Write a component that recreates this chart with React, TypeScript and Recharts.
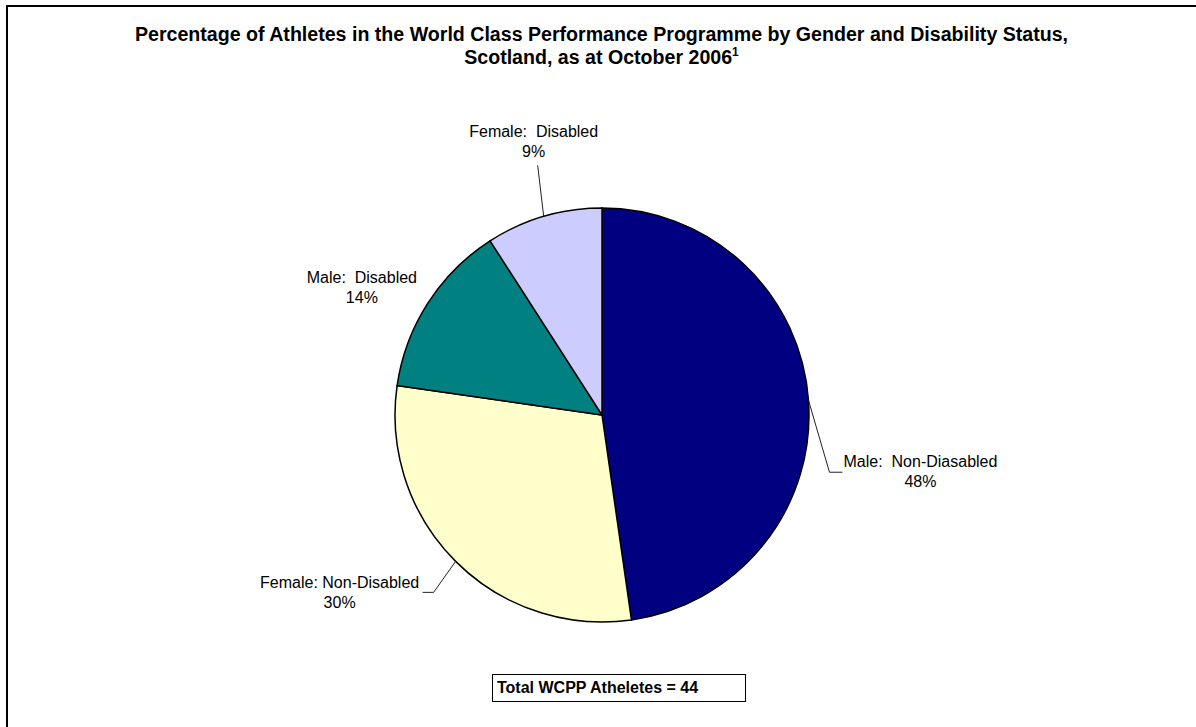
import { PieChart, Pie, Cell } from 'recharts'

const categories = ['Male:  Non-Diasabled', 'Female: Non-Disabled', 'Male:  Disabled', 'Female:  Disabled']
const athletes = [21, 13, 6, 4]
const percentLabels = ['48%', '30%', '14%', '9%']
const colors = ['#000080', '#FFFFCC', '#008080', '#CCCCFF']

// label baseline offset from the slice's outer edge point, plus leader line points
const labelLayout: Record<string, { dx: number; dy: number; leader: number[][] | null }> = {
  'Male:  Non-Diasabled': { dx: 112, dy: 67, leader: [[21, 72], [34, 72]] },
  'Female: Non-Disabled': { dx: -116, dy: 27, leader: [[-22, 31], [-33, 31]] },
  'Male:  Disabled': { dx: -66, dy: -20, leader: null },
  'Female:  Disabled': { dx: -10, dy: -79, leader: [[-6, -51]] },
}

const chartData = categories.map((name, i) => ({
  name,
  value: athletes[i],
  pct: percentLabels[i],
}))

const RADIAN = Math.PI / 180
const font = '"Liberation Sans", Arial, sans-serif'

const renderLabel = (props: any) => {
  const { cx, cy, midAngle, outerRadius, index } = props
  const name = chartData[index].name
  const layout = labelLayout[name]
  const ex = cx + outerRadius * Math.cos(-midAngle * RADIAN)
  const ey = cy + outerRadius * Math.sin(-midAngle * RADIAN)
  const tx = ex + layout.dx
  const ty = ey + layout.dy
  const pts = layout.leader
    ? [[ex, ey], ...layout.leader.map(([x, y]) => [ex + x, ey + y])]
    : null
  return (
    <g>
      {pts && (
        <polyline
          points={pts.map(p => p.join(',')).join(' ')}
          fill='none'
          stroke='#222'
          strokeWidth={1}
        />
      )}
      <text
        x={tx}
        y={ty}
        textAnchor='middle'
        fontFamily={font}
        fontSize={16}
        fill='#000'
        style={{ whiteSpace: 'pre' }}>
        <tspan x={tx}>{name}</tspan>
        <tspan x={tx} dy={20}>{chartData[index].pct}</tspan>
      </text>
    </g>
  )
}

const App = () => {
  return (
    <div style={{ position: 'absolute', left: 0, top: 0, width: 1196, height: 727, background: '#fff', overflow: 'hidden' }}>
      <div
        style={{
          position: 'absolute',
          left: 6,
          top: 5,
          width: 1190,
          height: 722,
          borderLeft: '2px solid #000',
          borderTop: '2px solid #000',
        }}
      />
      <div
        style={{
          position: 'absolute',
          left: 0,
          top: 23,
          width: 1203,
          textAlign: 'center',
          fontFamily: font,
          fontWeight: 'bold',
          fontSize: 19.6,
          lineHeight: '23px',
        }}>
        Percentage of Athletes in the World Class Performance Programme by Gender and Disability Status,
        <br />
        Scotland, as at October 2006<sup style={{ fontSize: 12, lineHeight: 0 }}>1</sup>
      </div>
      <div style={{ position: 'absolute', left: 0, top: 0 }}>
        <PieChart
          width={1196}
          height={727}
          margin={{ top: 0, right: 0, bottom: 0, left: 0 }}>
          <Pie
            data={chartData}
            dataKey='value'
            nameKey='name'
            cx={602}
            cy={415}
            outerRadius={207}
            startAngle={90}
            endAngle={-270}
            stroke='#000'
            strokeWidth={1.5}
            label={renderLabel}
            labelLine={false}
            isAnimationActive={false}>
            {chartData.map((d, i) => (
              <Cell
                key={d.name}
                fill={colors[i]}
              />
            ))}
          </Pie>
        </PieChart>
      </div>
      <div
        style={{
          position: 'absolute',
          left: 492,
          top: 674,
          width: 248,
          height: 26,
          border: '1.5px solid #000',
          fontFamily: font,
          fontWeight: 'bold',
          fontSize: 16,
          lineHeight: '26px',
          paddingLeft: 4,
          boxSizing: 'content-box',
        }}>
        Total WCPP Atheletes = 44
      </div>
    </div>
  )
}

export default App
